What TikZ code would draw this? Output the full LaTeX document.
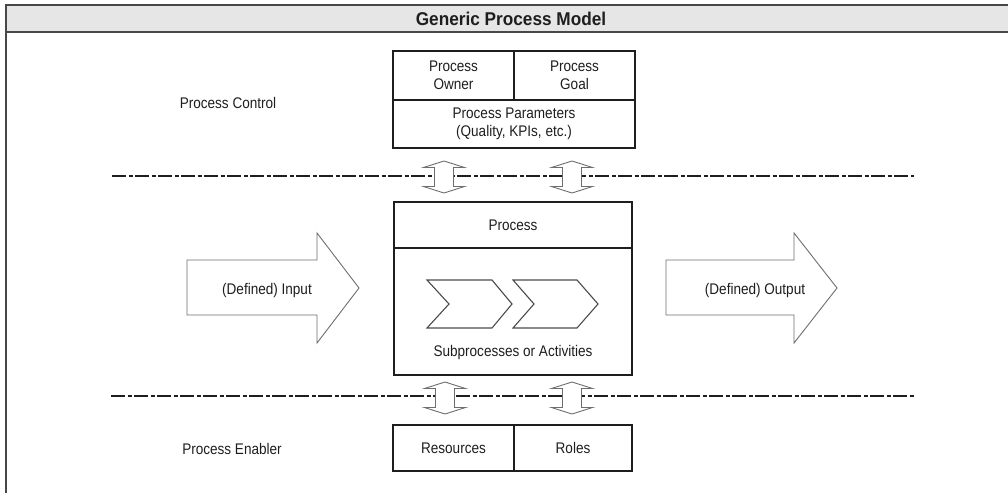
\documentclass[tikz,border=0pt]{standalone}
\usepackage{fontspec}
\setmainfont[FakeStretch=0.88]{Liberation Sans}
\newfontfamily\headfamily[FakeStretch=0.93]{Liberation Sans}
\definecolor{ink}{HTML}{1E1E1E}
\definecolor{framegray}{HTML}{484848}
\definecolor{bandgray}{HTML}{E6E6E6}
\definecolor{arrowgray}{HTML}{6E6E6E}
\newcommand\bodyfont{\fontsize{15.4}{18.5}\selectfont}
\newcommand\titlefont{\headfamily\fontsize{18.5}{20}\selectfont\bfseries}
% vertical two-headed block arrow: centre x, top y, bottom y
\newcommand\blockdoublearrow[3]{%
  \draw[blockarrow] (#1,#2) -- (#1+20.5,#2+6.5) -- (#1+9.5,#2+6.5)
    -- (#1+9.5,#3-6.5) -- (#1+20.5,#3-6.5) -- (#1,#3)
    -- (#1-20.5,#3-6.5) -- (#1-9.5,#3-6.5) -- (#1-9.5,#2+6.5)
    -- (#1-20.5,#2+6.5) -- cycle;}
\begin{document}
\begin{tikzpicture}[x=1pt,y=-1pt,
  cell/.style={draw=ink, line width=1.8pt, inner sep=0pt, align=center,
    font=\bodyfont, text=ink},
  lbl/.style={inner sep=0pt, font=\bodyfont, text=ink, align=center},
  blockarrow/.style={draw=arrowgray, line width=0.9pt, fill=white, line join=miter},
  separator/.style={draw=ink, line width=2pt,
    dash pattern=on 14pt off 2.5pt on 4pt off 2.5pt},
  chevron/.style={draw=ink!80, line width=1.1pt, line join=miter},
  frameline/.style={draw=framegray, line width=2.6pt}]
\useasboundingbox (0,0) rectangle (1008,493);

% frame with title band
\fill[bandgray] (6,5) rectangle (1008,32);
\draw[frameline] (1008,5) -- (6,5) -- (6,493);
\draw[frameline] (6,32) -- (1008,32);
\node[inner sep=0pt, font=\titlefont, text=ink] (title) at (511,18.5) {Generic Process Model};

% layer separators
\coordinate (sepAl) at (112,176);
\coordinate (sepAr) at (914,176);
\coordinate (sepBl) at (111,396);
\coordinate (sepBr) at (914,396);
\draw[separator] (sepAl) -- (sepAr);
\draw[separator] (sepBl) -- (sepBr);

% process control
\node[lbl] (ctrl) at (228,103) {Process Control};
\node[cell, minimum width=121pt, minimum height=49pt] (owner) at (453.5,75.5) {Process\\Owner};
\node[cell, minimum width=121pt, minimum height=49pt] (goal) at (574.5,75.5) {Process\\Goal};
\node[cell, minimum width=242pt, minimum height=48pt] (params) at (514,124) {Process Parameters\\(Quality, KPIs, etc.)};

% process
\node[cell, minimum width=238pt, minimum height=46pt] (phead) at (513,225) {Process};
\node[cell, minimum width=238pt, minimum height=127pt] (pbody) at (513,311.5) {};
\node[lbl] (subs) at (513,353) {Subprocesses or Activities};
\draw[chevron] (427,280) -- (492,280) -- (512,304) -- (492,328) -- (427,328) -- (449,304) -- cycle;
\draw[chevron] (513,280) -- (577,280) -- (598,304) -- (577,328) -- (513,328) -- (534,304) -- cycle;

% process enabler
\node[lbl] (enab) at (232,449) {Process Enabler};
\node[cell, minimum width=121pt, minimum height=46pt] (res) at (453.5,448) {Resources};
\node[cell, minimum width=118pt, minimum height=46pt] (roles) at (573,448) {Roles};

% links between the layers
\blockdoublearrow{444}{161}{193}
\blockdoublearrow{572}{161}{193}
\blockdoublearrow{445}{382}{414}
\blockdoublearrow{572}{382}{414}

% input and output
\draw[blockarrow] (187,260) -- (317,260) -- (317,233) -- (359,288)
  -- (317,343) -- (317,315) -- (187,315) -- cycle;
\node[lbl] (input) at (267,291) {(Defined) Input};
\draw[blockarrow] (666,260) -- (794,260) -- (794,233) -- (837,288)
  -- (794,343) -- (794,315) -- (666,315) -- cycle;
\node[lbl] (output) at (755,291) {(Defined) Output};
\end{tikzpicture}
\end{document}
